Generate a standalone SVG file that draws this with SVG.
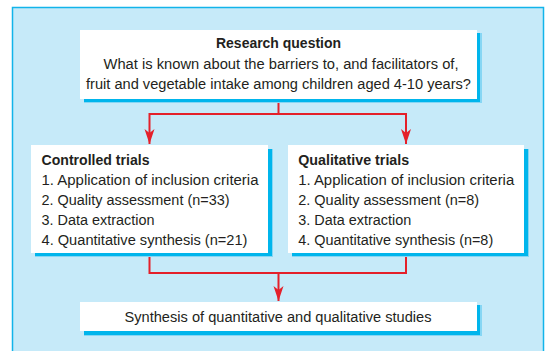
<svg xmlns="http://www.w3.org/2000/svg" width="545" height="351" viewBox="0 0 545 351">
  <style>
    .panel { fill: #c6eaf9; stroke: #12b4ea; stroke-width: 1.5; }
    .box { fill: #ffffff; }
    .shadow { fill: #00b5ec; }
    .halo { fill: #86d6f4; }
    .t { font-family: "Liberation Sans", Arial, sans-serif; font-size: 15.5px; fill: #231f20; }
    .b { font-weight: bold; }
    .c { text-anchor: middle; }
    .conn { fill: none; stroke: #e4202a; stroke-width: 2; }
  </style>
  <defs>
    <marker id="arrow" markerUnits="userSpaceOnUse" markerWidth="16" markerHeight="12" refX="15" refY="5.5" orient="auto">
      <path d="M0,0.5 L15,5.5 L0,10.5 L4,5.5 Z" fill="#e4202a"/>
    </marker>
  </defs>

  <rect class="panel" x="12.5" y="7.5" width="531" height="360"/>

  <g id="connectors">
    <path class="conn" d="M278.5,99 V114 H149.5 V144" marker-end="url(#arrow)"/>
    <path class="conn" d="M278.5,114 H406 V144" marker-end="url(#arrow)"/>
    <path class="conn" d="M149.5,253 V273 H278.5 V301" marker-end="url(#arrow)"/>
    <path class="conn" d="M406,253 V273 H278.5"/>
  </g>

  <g id="research-question">
    <rect class="halo" x="84" y="33" width="398" height="70"/>
    <rect class="shadow" x="84" y="33" width="396" height="69"/>
    <rect class="box" x="80" y="30" width="397" height="69"/>
    <text class="t b c" x="278.5" y="47.5" textLength="125" lengthAdjust="spacingAndGlyphs">Research question</text>
    <text class="t c" x="281" y="69" textLength="355" lengthAdjust="spacingAndGlyphs">What is known about the barriers to, and facilitators of,</text>
    <text class="t c" x="278.5" y="89" textLength="385" lengthAdjust="spacingAndGlyphs">fruit and vegetable intake among children aged 4-10 years?</text>
  </g>

  <g id="controlled-trials">
    <rect class="halo" x="35" y="149" width="238" height="108"/>
    <rect class="shadow" x="35" y="149" width="237" height="107"/>
    <rect class="box" x="31" y="145" width="237" height="108"/>
    <text class="t b" x="41.5" y="164.5" textLength="108" lengthAdjust="spacingAndGlyphs">Controlled trials</text>
    <text class="t" x="41.5" y="184.5" textLength="217" lengthAdjust="spacingAndGlyphs">1. Application of inclusion criteria</text>
    <text class="t" x="41.5" y="204.5" textLength="188" lengthAdjust="spacingAndGlyphs">2. Quality assessment (n=33)</text>
    <text class="t" x="41.5" y="224.5" textLength="113" lengthAdjust="spacingAndGlyphs">3. Data extraction</text>
    <text class="t" x="41.5" y="244.5" textLength="206" lengthAdjust="spacingAndGlyphs">4. Quantitative synthesis (n=21)</text>
  </g>

  <g id="qualitative-trials">
    <rect class="halo" x="292" y="149" width="237" height="108"/>
    <rect class="shadow" x="292" y="149" width="236" height="107"/>
    <rect class="box" x="288" y="145" width="236" height="108"/>
    <text class="t b" x="298.2" y="164.5" textLength="111" lengthAdjust="spacingAndGlyphs">Qualitative trials</text>
    <text class="t" x="298.2" y="184.5" textLength="216" lengthAdjust="spacingAndGlyphs">1. Application of inclusion criteria</text>
    <text class="t" x="298.2" y="204.5" textLength="181" lengthAdjust="spacingAndGlyphs">2. Quality assessment (n=8)</text>
    <text class="t" x="298.2" y="224.5" textLength="113" lengthAdjust="spacingAndGlyphs">3. Data extraction</text>
    <text class="t" x="298.2" y="244.5" textLength="195" lengthAdjust="spacingAndGlyphs">4. Quantitative synthesis (n=8)</text>
  </g>

  <g id="synthesis">
    <rect class="halo" x="84" y="305" width="398" height="31"/>
    <rect class="shadow" x="84" y="305" width="396" height="30"/>
    <rect class="box" x="80" y="302" width="397" height="29"/>
    <text class="t c" x="278" y="321.5" textLength="307" lengthAdjust="spacingAndGlyphs">Synthesis of quantitative and qualitative studies</text>
  </g>
</svg>
